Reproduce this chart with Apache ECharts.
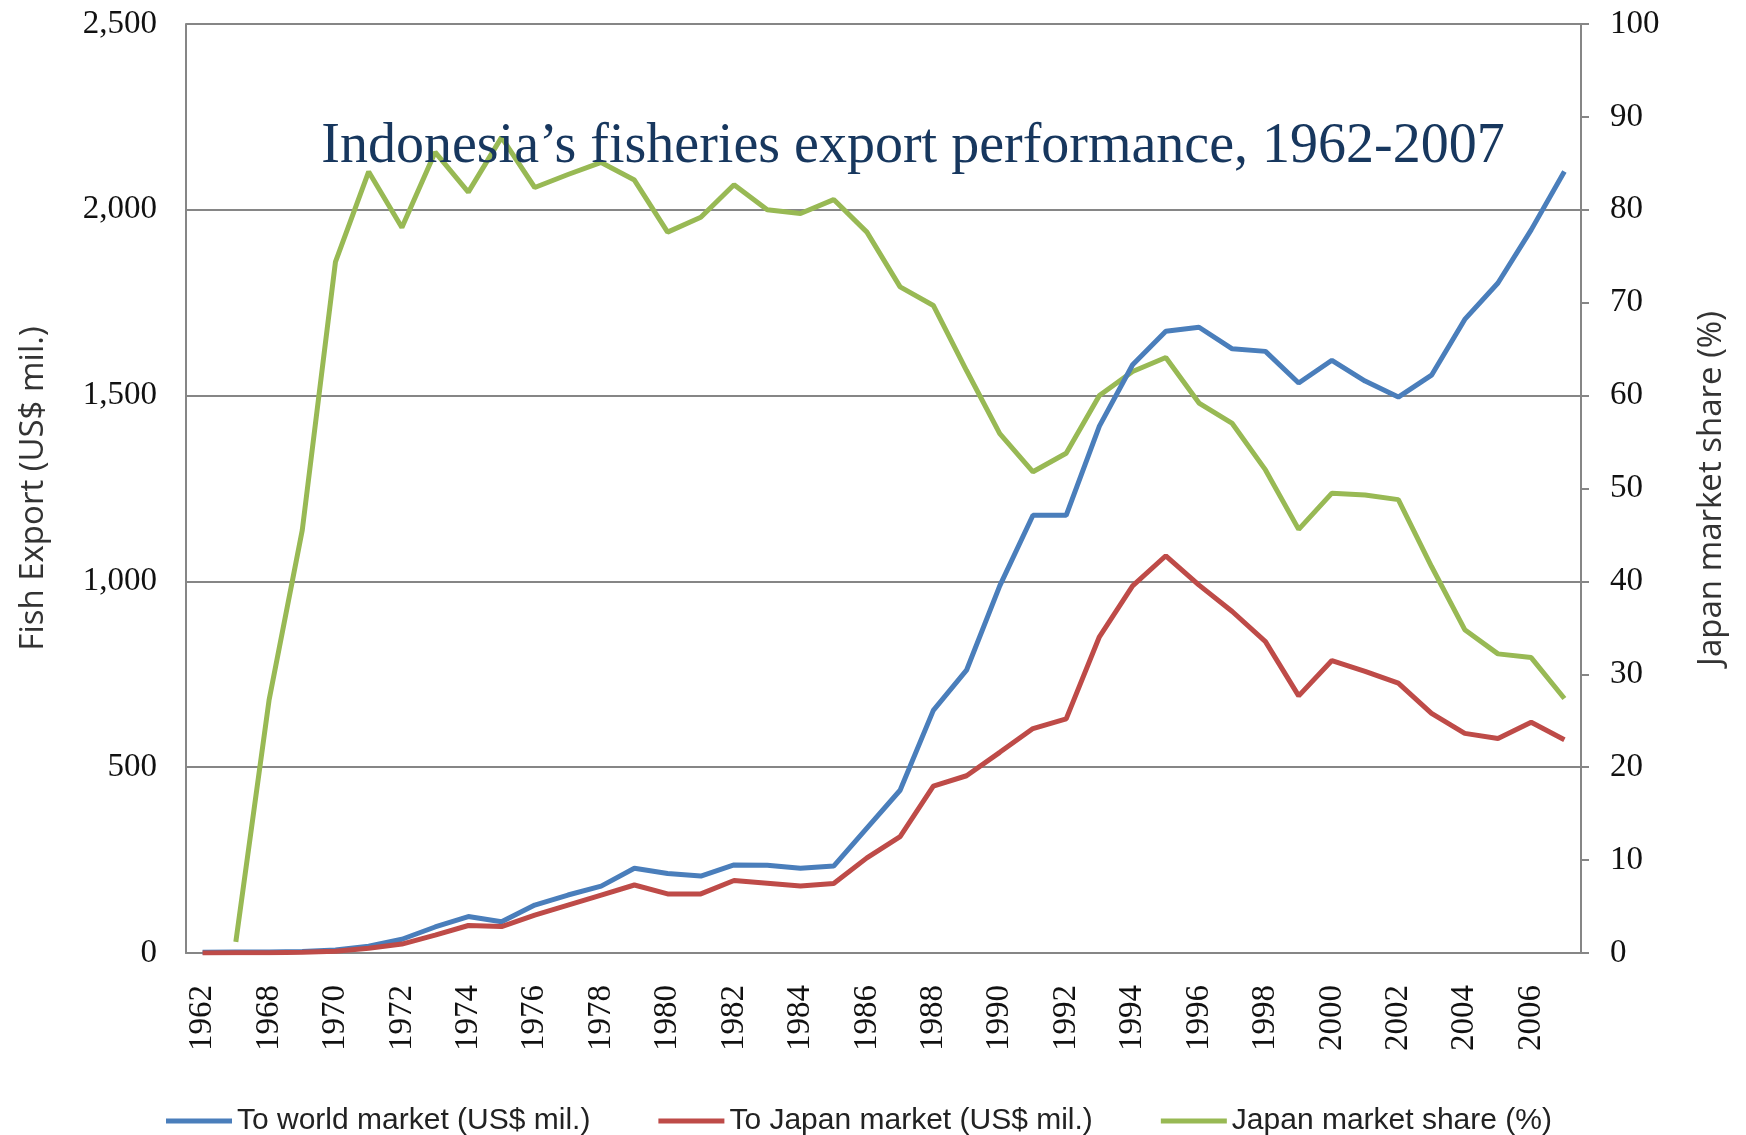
<!DOCTYPE html>
<html>
<head>
<meta charset="utf-8">
<script src="https://cdn.jsdelivr.net/npm/echarts@6/dist/echarts.min.js"></script>
<style>html,body{margin:0;padding:0;background:#fff}#c{width:1746px;height:1135px}</style>
</head>
<body>
<div id="c"></div>
<script>
const years = ['1962','1967','1968','1969','1970','1971','1972','1973','1974','1975','1976','1977','1978','1979','1980','1981','1982','1983','1984','1985','1986','1987','1988','1989','1990','1991','1992','1993','1994','1995','1996','1997','1998','1999','2000','2001','2002','2003','2004','2005','2006','2007'];
const toWorld = [2,3,3,4,8,18,37,70,98,84,129,156,180,228,214,207,237,236,228,234,336,438,653,761,988,1178,1178,1418,1583,1673,1684,1626,1619,1534,1595,1539,1496,1555,1705,1803,1946,2103];
const toJapan = [0,1,1,2,5,13,24,48,74,71,102,129,156,183,159,159,195,188,180,187,256,313,449,477,540,604,630,851,988,1069,990,919,838,692,787,758,726,645,591,577,621,574];
const japanShare = [null,1.2,27.2,45.5,74.4,84.1,78.1,86.2,81.9,87.8,82.4,83.8,85.1,83.2,77.6,79.2,82.7,80.0,79.6,81.1,77.6,71.7,69.7,62.7,55.9,51.8,53.8,60.0,62.6,64.1,59.2,57.0,52.0,45.6,49.5,49.3,48.8,41.6,34.8,32.2,31.8,27.4];
const leftTicks = [0,500,1000,1500,2000,2500];
const rightTicks = [0,10,20,30,40,50,60,70,80,90,100];
const seriesNames = ['To world market (US$ mil.)','To Japan market (US$ mil.)','Japan market share (%)'];
const titleText = 'Indonesia\u2019s fisheries export performance, 1962-2007';

const chart = echarts.init(document.getElementById('c'), null, {renderer:'canvas'});
const serif = "'Liberation Serif', 'DejaVu Serif', serif";
const sans = "'Liberation Sans Narrow', 'Liberation Sans', sans-serif";
const titleSans = "'Open Sans', 'Liberation Sans', sans-serif";
const axisGray = '#868686';
chart.setOption({
  animation: false,
  backgroundColor: '#fff',
  color: ['#4A7EBB','#BE4B48','#98B954'],
  title: {
    text: titleText, left: 908, top: 114, textAlign: 'center',
    textStyle: {fontFamily: serif, fontSize: 56, fontWeight: 'normal', color: '#17375E'}
  },
  grid: {left: 186, right: 165, top: 24, bottom: 182, containLabel: false},
  legend: {
    left: 161, top: 1101, itemGap: 68, itemWidth: 66, itemHeight: 5, icon: 'rect',
    textStyle: {fontFamily: sans, fontSize: 30, color: '#222'},
    data: seriesNames
  },
  xAxis: {
    type: 'category', data: years, boundaryGap: true,
    axisLine: {lineStyle: {color: axisGray, width: 2}},
    axisTick: {show: false},
    axisLabel: {interval: 1, rotate: 90, margin: 32, fontFamily: serif, fontSize: 33, color: '#111'}
  },
  yAxis: [
    {
      type: 'value', min: 0, max: 2500, interval: 500, position: 'left',
      name: 'Fish Export (US$ mil.)', nameLocation: 'middle', nameRotate: 90, nameGap: 136,
      nameTextStyle: {fontFamily: titleSans, fontSize: 33, color: '#333'},
      axisLine: {show: true, lineStyle: {color: axisGray, width: 2}},
      axisTick: {show: false},
      splitLine: {lineStyle: {color: axisGray, width: 2}},
      axisLabel: {margin: 29, fontFamily: serif, fontSize: 33, color: '#111',
        formatter: v => leftTicks.includes(v) ? v.toLocaleString('en-US') : ''}
    },
    {
      type: 'value', min: 0, max: 100, interval: 10, position: 'right',
      name: 'Japan market share (%)', nameLocation: 'middle', nameRotate: 90, nameGap: 114,
      nameTextStyle: {fontFamily: titleSans, fontSize: 33, color: '#333'},
      axisLine: {show: true, lineStyle: {color: axisGray, width: 2}},
      axisTick: {show: true, inside: false, length: 8, lineStyle: {color: axisGray, width: 2}},
      splitLine: {show: false},
      axisLabel: {margin: 29, fontFamily: serif, fontSize: 33, color: '#111',
        formatter: v => rightTicks.includes(v) ? String(v) : ''}
    }
  ],
  series: [
    {name: seriesNames[0], type: 'line', yAxisIndex: 0, data: toWorld, symbol: 'none', lineStyle: {width: 5}, z: 3},
    {name: seriesNames[1], type: 'line', yAxisIndex: 0, data: toJapan, symbol: 'none', lineStyle: {width: 5}, z: 3},
    {name: seriesNames[2], type: 'line', yAxisIndex: 1, data: japanShare, symbol: 'none', lineStyle: {width: 5}, z: 2}
  ]
});
</script>
</body>
</html>
